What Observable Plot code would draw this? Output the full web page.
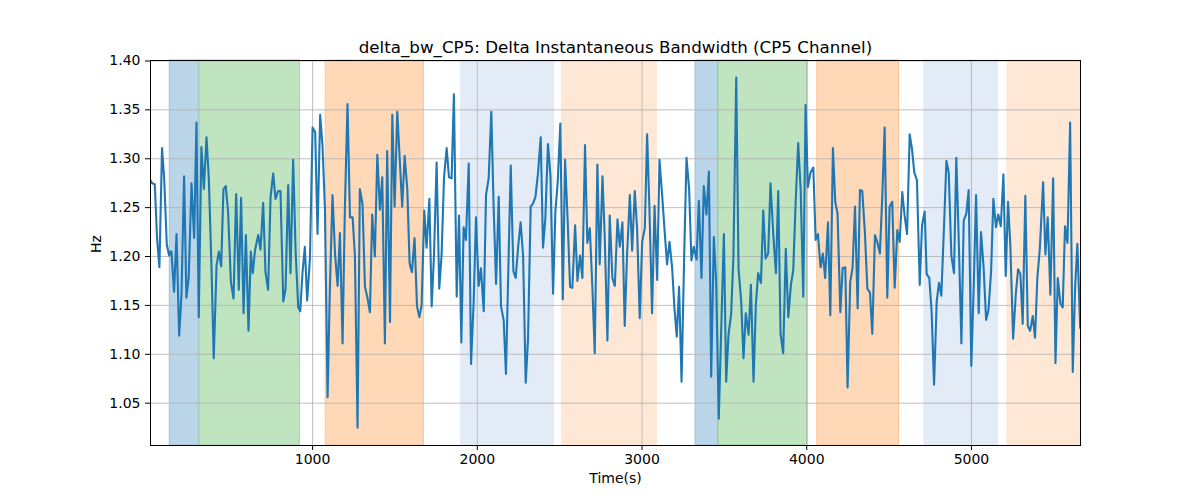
<!DOCTYPE html>
<html>
<head>
<meta charset="utf-8">
<script src="https://cdn.jsdelivr.net/npm/d3@7"></script>
<script src="https://cdn.jsdelivr.net/npm/@observablehq/plot@0.6"></script>
<style>
  html, body { margin: 0; padding: 0; background: #fff; }
  #chart { width: 1200px; height: 500px; }
</style>
</head>
<body>
<div id="chart"></div>
<script>
const titleText = "delta_bw_CP5: Delta Instantaneous Bandwidth (CP5 Channel)";
const xLabel = "Time(s)";
const yLabel = "Hz";
const xTicks = [1000, 2000, 3000, 4000, 5000];
const yTicks = [1.05, 1.10, 1.15, 1.20, 1.25, 1.30, 1.35, 1.40];

const times = [16,26,42,56,70,86,99,115,129,137,143,159,174,190,204,220,234,248,265,281,295,309,325,340,356,370,386,400,417,431,445,459,473,487,504,520,536,552,566,581,595,611,625,637,651,670,684,700,714,730,745,761,775,791,805,822,836,852,866,882,897,913,
925,939,953,967,984,1000,1016,1030,1046,1060,1075,1091,1105,1121,1137,1152,1166,1182,1196,1212,1227,1243,1257,1273,1287,1303,1318,1334,1348,1362,1378,1393,1409,1423,1439,1453,1470,1484,1498,1514,1528,1544,1559,1575,1589,1603,1619,1634,1648,1662,1678,1692,1709,1723,1737,1753,1769,1783,1798,1814,1828,1844,1858,
1875,1889,1903,1917,1931,1948,1962,1978,1992,2008,2022,2039,2053,2069,2085,2099,2114,2130,2144,2160,2174,2188,2203,2219,2233,2249,2263,2278,2294,2308,2324,2338,2353,2369,2385,2399,2413,2429,2444,2460,2474,2488,2504,2519,2533,2549,2563,2577,2594,2608,2624,2638,2654,2668,2683,2699,2713,2729,2743,2760,2774,2790,2804,
2820,2835,2851,2865,2881,2895,2909,2926,2940,2956,2970,2986,3001,3017,3031,3045,3061,3076,3092,3106,3122,3136,3152,3167,3183,3197,3211,3225,3240,3256,3270,3286,3300,3314,3331,3345,3361,3375,3391,3406,3420,3436,3450,3466,3481,3497,3511,3525,3541,3555,3572,3586,3602,3616,3630,3647,3661,3677,3691,3705,3722,3736,3750,3766,
3780,3797,3813,3827,3841,3857,3873,3888,3904,3918,3932,3948,3963,3979,3993,4007,4023,4040,4054,4068,4084,4098,4112,4129,4143,4159,4173,4187,4204,4218,4234,4248,4264,4278,4293,4309,4323,4337,4353,4368,4384,4398,4414,4428,4444,4459,4473,4489,4503,4519,4534,4550,4564,4580,4594,4609,4625,4639,4653,4669,4686,4700,4716,
4728,4744,4758,4773,4789,4803,4817,4833,4848,4862,4878,4894,4908,4922,4939,4953,4969,4983,4999,5014,5028,5044,5058,5074,5089,5103,5119,5133,5149,5163,5178,5194,5208,5222,5236,5253,5269,5283,5297,5311,5327,5342,5356,5372,5386,5400,5415,5435,5449,5463,5479,5496,5510,5524,5540,5554,5568,5583,5599,5615,5629,5643,5660];

const bandwidth = [1.278,1.275,1.274,1.218,1.189,1.311,1.280,1.212,1.201,1.205,1.205,1.164,1.223,1.119,1.161,1.282,1.158,1.179,1.275,1.219,1.337,1.138,1.312,1.269,1.322,1.280,1.191,1.096,1.191,1.205,1.190,1.269,1.272,1.246,1.174,1.157,1.264,1.166,1.260,1.142,1.222,1.124,1.205,1.183,1.207,1.222,1.207,1.255,1.184,1.166,1.261,1.285,1.259,1.267,1.267,1.154,1.167,1.273,1.183,1.299,1.205,1.148,
1.144,1.184,1.210,1.155,1.198,1.332,1.327,1.223,1.345,1.314,1.249,1.056,1.167,1.263,1.201,1.170,1.224,1.111,1.249,1.356,1.240,1.240,1.201,1.025,1.269,1.254,1.169,1.157,1.143,1.243,1.200,1.304,1.248,1.281,1.111,1.308,1.133,1.345,1.251,1.348,1.303,1.251,1.303,1.269,1.193,1.184,1.219,1.149,1.138,1.150,1.247,1.209,1.259,1.149,1.201,1.296,1.167,1.201,1.281,1.311,1.281,1.280,1.366,
1.159,1.242,1.112,1.230,1.217,1.295,1.090,1.154,1.240,1.170,1.188,1.144,1.263,1.280,1.348,1.252,1.172,1.261,1.149,1.135,1.080,1.184,1.293,1.185,1.178,1.212,1.235,1.201,1.071,1.116,1.251,1.254,1.261,1.286,1.322,1.209,1.239,1.315,1.283,1.162,1.246,1.276,1.336,1.156,1.299,1.235,1.169,1.168,1.232,1.175,1.201,1.178,1.314,1.214,1.229,1.167,1.101,1.294,1.192,1.282,1.218,1.114,1.242,
1.178,1.170,1.238,1.210,1.235,1.129,1.201,1.263,1.206,1.267,1.229,1.137,1.215,1.229,1.325,1.249,1.142,1.252,1.176,1.299,1.263,1.229,1.192,1.215,1.188,1.147,1.118,1.169,1.072,1.201,1.301,1.269,1.196,1.210,1.197,1.257,1.178,1.272,1.243,1.287,1.077,1.220,1.174,1.034,1.127,1.223,1.072,1.120,1.141,1.201,1.383,1.188,1.154,1.096,1.142,1.120,1.171,1.072,1.150,1.183,1.173,1.247,1.198,1.203,
1.275,1.222,1.183,1.267,1.121,1.101,1.208,1.138,1.171,1.186,1.252,1.316,1.269,1.159,1.355,1.271,1.286,1.291,1.217,1.223,1.189,1.203,1.178,1.235,1.140,1.311,1.256,1.244,1.143,1.188,1.189,1.066,1.174,1.188,1.251,1.147,1.268,1.267,1.225,1.167,1.163,1.121,1.222,1.215,1.203,1.263,1.332,1.158,1.251,1.256,1.168,1.227,1.215,1.266,1.242,1.223,1.325,1.310,1.286,1.278,1.171,1.232,1.246,
1.182,1.178,1.144,1.069,1.154,1.173,1.160,1.229,1.298,1.286,1.201,1.183,1.301,1.222,1.111,1.237,1.244,1.268,1.088,1.171,1.263,1.142,1.225,1.188,1.135,1.145,1.184,1.259,1.230,1.243,1.231,1.284,1.180,1.256,1.212,1.116,1.161,1.187,1.182,1.131,1.262,1.129,1.124,1.139,1.117,1.178,1.208,1.276,1.202,1.240,1.161,1.280,1.091,1.178,1.152,1.148,1.231,1.214,1.337,1.082,1.167,1.213,1.127];

const spanStart = [133, 315, 1080, 1900, 2513, 3325, 3464, 4064, 4714, 5218];
const spanEnd   = [309, 923, 1676, 2466, 3090, 3464, 4005, 4560, 5162, 5662];
const spanFill  = ["#bad4e8", "#c0e3c0", "#fed8b7", "#e3ebf6", "#fee8d5", "#bad4e8", "#c0e3c0", "#fed8b7", "#e3ebf6", "#fee8d5"];
const spanEdge  = ["#9cc3df", "#9fd49f", "#fdc595", "#e3ebf6", "#fee8d5", "#9cc3df", "#8ccb8c", "#fdc595", "#e3ebf6", "#fee8d5"];

const series = times.map((t, i) => ({t, v: bandwidth[i]}));
const spans = spanStart.map((s, i) => ({s, e: spanEnd[i], fill: spanFill[i], edge: spanEdge[i]}));

const chart = Plot.plot({
  width: 1200,
  height: 500,
  marginLeft: 150,
  marginRight: 120,
  marginTop: 60,
  marginBottom: 55,
  style: {fontFamily: "DejaVu Sans", fontSize: "14px", background: "#fff", color: "#000"},
  x: {domain: [times[0], 5662], label: null},
  y: {domain: [1.0067, 1.4005], label: null},
  color: {type: "identity"},
  marks: [
    Plot.rect(spans, {x1: "s", x2: "e", fill: "fill", stroke: "edge", strokeWidth: 1}),
    Plot.gridX(xTicks, {stroke: "#b0b0b0", strokeOpacity: 1, strokeWidth: 0.8}),
    Plot.gridY(yTicks, {stroke: "#b0b0b0", strokeOpacity: 1, strokeWidth: 0.8}),
    Plot.line(series, {x: "t", y: "v", stroke: "#1f77b4", strokeWidth: 2.1, clip: true}),
    Plot.frame({stroke: "#000", strokeWidth: 1}),
    Plot.axisX({ticks: xTicks, tickSize: 5, tickPadding: 4, tickFormat: d3.format("d"), fontSize: 14, label: null}),
    Plot.axisY({ticks: yTicks, tickSize: 5, tickPadding: 5, tickFormat: d3.format(".2f"), fontSize: 14, label: null}),
    Plot.text([titleText], {frameAnchor: "top", dy: -8, lineAnchor: "bottom", fontSize: 16.7, fill: "#000"}),
    Plot.text([xLabel], {frameAnchor: "bottom", dy: 28, lineAnchor: "top", fontSize: 14, fill: "#000"}),
    Plot.text([yLabel], {frameAnchor: "left", dx: -54, rotate: -90, fontSize: 14, fill: "#000"})
  ]
});
document.getElementById("chart").appendChild(chart);
</script>
</body>
</html>
